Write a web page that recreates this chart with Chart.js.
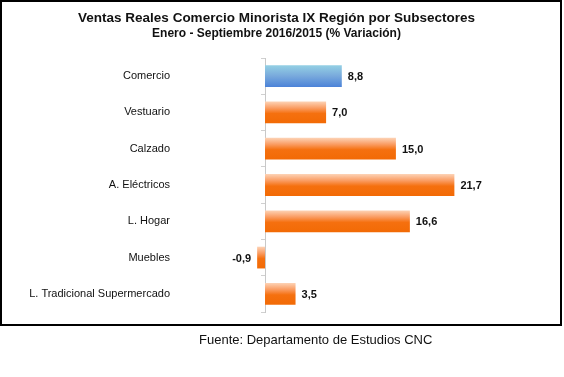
<!DOCTYPE html>
<html>
<head>
<meta charset="utf-8">
<script src="https://cdn.jsdelivr.net/npm/chart.js@4.4.1/dist/chart.umd.min.js"></script>
<style>
  html, body { margin: 0; padding: 0; background: #fff; }
  #wrap { position: relative; width: 564px; height: 377px; }
  #fuente {
    position: absolute; left: 199px; top: 332px; line-height: 18px;
    font: 13px "Liberation Sans", Arial, sans-serif; color: #111; white-space: nowrap;
  }
</style>
</head>
<body>
<div id="wrap">
  <canvas id="grafico" width="564" height="377"></canvas>
  <div id="fuente">Fuente: Departamento de Estudios CNC</div>
</div>
<script>
const categorias = ['Comercio', 'Vestuario', 'Calzado', 'A. Eléctricos', 'L. Hogar', 'Muebles', 'L. Tradicional Supermercado'];
const variacion = [8.8, 7.0, 15.0, 21.7, 16.6, -0.9, 3.5];
const esTotal = [true, false, false, false, false, false, false];

const FUENTE = '"Liberation Sans", Arial, sans-serif';

// gradient per bar, light on top, saturated at the bottom
function degradado(ctx) {
  const chart = ctx.chart;
  const yScale = chart.scales.y;
  const plano = esTotal[ctx.dataIndex] ? '#6f9fdc' : '#f46a0a';
  if (!yScale || ctx.type !== 'data') return plano;
  const centro = yScale.getPixelForValue(ctx.dataIndex);
  const medio = (yScale.height / categorias.length) * 0.6 / 2;
  if (!isFinite(centro) || !isFinite(medio) || medio <= 0) return plano;
  const g = chart.ctx.createLinearGradient(0, centro - medio, 0, centro + medio);
  if (esTotal[ctx.dataIndex]) {
    g.addColorStop(0, '#94d0e4');
    g.addColorStop(0.5, '#78a9dc');
    g.addColorStop(1, '#4b82d8');
  } else {
    g.addColorStop(0, '#fdd3b6');
    g.addColorStop(0.3, '#fa9c62');
    g.addColorStop(0.55, '#f5700f');
    g.addColorStop(1, '#f26a05');
  }
  return g;
}

const marco = {
  id: 'marco',
  beforeDraw(chart) {
    const c = chart.ctx;
    c.save();
    c.fillStyle = '#fff';
    c.fillRect(0, 0, chart.width, chart.height);
    c.strokeStyle = '#000';
    c.lineWidth = 2;
    c.strokeRect(1, 1, 560, 324);
    c.restore();
  }
};

const etiquetasValor = {
  id: 'etiquetasValor',
  afterDatasetsDraw(chart) {
    const c = chart.ctx;
    const meta = chart.getDatasetMeta(0);
    c.save();
    c.font = 'bold 11px ' + FUENTE;
    c.fillStyle = '#111';
    c.textBaseline = 'middle';
    meta.data.forEach((bar, i) => {
      const v = variacion[i];
      const txt = v.toFixed(1).replace('.', ',');
      c.textAlign = v < 0 ? 'right' : 'left';
      c.fillText(txt, bar.x + (v < 0 ? -6 : 6), bar.y + 1);
    });
    c.restore();
  }
};

new Chart(document.getElementById('grafico'), {
  type: 'bar',
  data: {
    labels: categorias,
    datasets: [{
      data: variacion,
      backgroundColor: degradado,
      borderWidth: 0,
      barPercentage: 0.75,
      categoryPercentage: 0.8,
      clip: false
    }]
  },
  options: {
    indexAxis: 'y',
    responsive: false,
    animation: false,
    layout: { padding: { left: 0, right: 11, top: 0, bottom: 65 } },
    plugins: {
      legend: { display: false },
      tooltip: { enabled: false },
      title: {
        display: true,
        text: 'Ventas Reales Comercio Minorista IX Región por Subsectores',
        color: '#111',
        font: { family: FUENTE, size: 13.5, weight: 'bold' },
        padding: { top: 10, bottom: 0.6 }
      },
      subtitle: {
        display: true,
        text: 'Enero - Septiembre 2016/2015 (% Variación)',
        color: '#111',
        font: { family: FUENTE, size: 12, weight: 'bold' },
        padding: { top: 0, bottom: 16.8 }
      }
    },
    scales: {
      x: { display: false, min: 0, max: 33 },
      y: {
        border: { display: true, color: '#c8c8c8', width: 1 },
        grid: { drawOnChartArea: false, drawTicks: true, tickLength: 4, color: '#d0d0d0' },
        ticks: { padding: 91, color: '#111', font: { family: FUENTE, size: 11 } },
        afterFit(scale) {
          // labels sit far from the axis; keep that gap out of the vertical padding
          scale.width = 265;
          scale.paddingTop = 0;
          scale.paddingBottom = 0;
        }
      }
    }
  },
  plugins: [marco, etiquetasValor]
});
</script>
</body>
</html>
